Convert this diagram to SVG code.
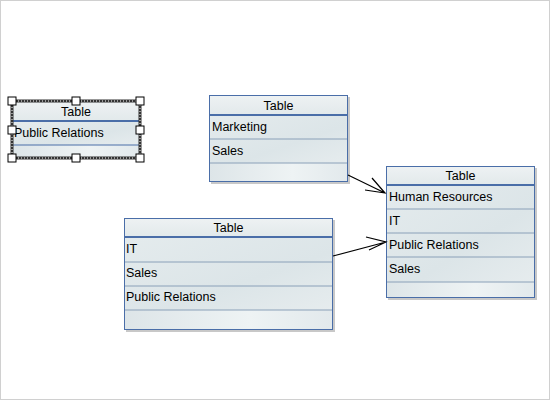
<svg xmlns="http://www.w3.org/2000/svg" width="550" height="400" viewBox="0 0 550 400">
<defs>
<linearGradient id="hg" x1="0" y1="0" x2="0" y2="1"><stop offset="0" stop-color="#eef2f3"/><stop offset="1" stop-color="#e2e9eb"/></linearGradient>
<linearGradient id="rg" x1="0" y1="0" x2="1" y2="1"><stop offset="0" stop-color="#e4ebed"/><stop offset="0.6" stop-color="#dce5e8"/><stop offset="1" stop-color="#e6ecee"/></linearGradient>
<linearGradient id="eg" x1="0" y1="0" x2="1" y2="0"><stop offset="0" stop-color="#dde5e8"/><stop offset="0.6" stop-color="#eef3f4"/><stop offset="1" stop-color="#e2e9ec"/></linearGradient>
</defs>
<style>
.frame{fill:none;stroke:#4a6ea8;stroke-width:1}
.hdr{fill:url(#hg)}
.row{fill:url(#rg)}
.emp{fill:url(#eg)}
.sep{stroke:#4a6ea8;stroke-width:1}
.hsep{stroke:#4a6ea8;stroke-width:2}
.lsep{stroke:#8aa0b8;stroke-width:1}
.sh{fill:#c8c8c8}
text{font-family:"Liberation Sans",Arial,sans-serif;font-size:12.5px;fill:#000}
.t{text-anchor:middle}
.conn{stroke:#000;stroke-width:1.2;fill:none}
.hd{fill:#fff;stroke:#000;stroke-width:1}
</style>
<rect x="0.5" y="0.5" width="549" height="399" fill="#fff" stroke="#d0d0d0"/>

<g id="table1">
<rect x="12" y="101" width="128" height="57" fill="url(#eg)"/>
<rect x="12" y="101" width="128" height="20" class="hdr"/>
<rect x="12" y="121" width="128" height="24" class="row"/>
<line x1="12" y1="121" x2="140" y2="121" class="hsep"/>
<line x1="12" y1="145" x2="140" y2="145" class="sep"/>
<text x="76" y="116" class="t">Table</text>
<text x="14" y="137">Public Relations</text>
<rect x="12" y="101" width="128" height="57" fill="none" stroke="#333" stroke-width="3"/>
<rect x="12" y="101" width="128" height="57" fill="none" stroke="#fff" stroke-width="1" stroke-dasharray="1 2"/>
<rect x="8" y="97" width="8" height="8" class="hd"/>
<rect x="72" y="97" width="8" height="8" class="hd"/>
<rect x="136" y="97" width="8" height="8" class="hd"/>
<rect x="8" y="126" width="8" height="8" class="hd"/>
<rect x="136" y="126" width="8" height="8" class="hd"/>
<rect x="8" y="154" width="8" height="8" class="hd"/>
<rect x="72" y="154" width="8" height="8" class="hd"/>
<rect x="136" y="154" width="8" height="8" class="hd"/>
</g>

<g id="table2">
<rect x="211" y="97" width="139" height="87" class="sh"/>
<rect x="209" y="95" width="139" height="87" class="emp"/>
<rect x="209" y="95" width="139" height="20" class="hdr"/>
<rect x="209" y="115" width="139" height="48" class="row"/>
<line x1="209" y1="115" x2="348" y2="115" class="hsep"/>
<line x1="209" y1="139" x2="348" y2="139" class="lsep"/>
<line x1="209" y1="163" x2="348" y2="163" class="lsep"/>
<rect x="209.5" y="95.5" width="138" height="86" class="frame"/>
<text x="278.5" y="110" class="t">Table</text>
<text x="212" y="131">Marketing</text>
<text x="212" y="155">Sales</text>
</g>

<g id="table3">
<rect x="388" y="168" width="149" height="132" class="sh"/>
<rect x="386" y="166" width="149" height="132" class="emp"/>
<rect x="386" y="166" width="149" height="19" class="hdr"/>
<rect x="386" y="185" width="149" height="97" class="row"/>
<line x1="386" y1="185" x2="535" y2="185" class="hsep"/>
<line x1="386" y1="209" x2="535" y2="209" class="lsep"/>
<line x1="386" y1="233" x2="535" y2="233" class="lsep"/>
<line x1="386" y1="257" x2="535" y2="257" class="lsep"/>
<line x1="386" y1="282" x2="535" y2="282" class="lsep"/>
<rect x="386.5" y="166.5" width="148" height="131" class="frame"/>
<text x="460.5" y="180" class="t">Table</text>
<text x="389" y="201">Human Resources</text>
<text x="389" y="225">IT</text>
<text x="389" y="249">Public Relations</text>
<text x="389" y="273">Sales</text>
</g>

<g id="table4">
<rect x="126" y="220" width="209" height="112" class="sh"/>
<rect x="124" y="218" width="209" height="112" class="emp"/>
<rect x="124" y="218" width="209" height="19" class="hdr"/>
<rect x="124" y="237" width="209" height="73" class="row"/>
<line x1="124" y1="237" x2="333" y2="237" class="hsep"/>
<line x1="124" y1="262" x2="333" y2="262" class="lsep"/>
<line x1="124" y1="286" x2="333" y2="286" class="lsep"/>
<line x1="124" y1="310" x2="333" y2="310" class="lsep"/>
<rect x="124.5" y="218.5" width="208" height="111" class="frame"/>
<text x="228.5" y="232" class="t">Table</text>
<text x="126" y="253">IT</text>
<text x="126" y="277">Sales</text>
<text x="126" y="301">Public Relations</text>
</g>

<g id="connectors">
<path d="M348,175 L385,193 M372,178 L385,193 L365,190" class="conn"/>
<path d="M333,256 L386,242 M366,237 L386,242 L369,250" class="conn"/>
</g>
</svg>
